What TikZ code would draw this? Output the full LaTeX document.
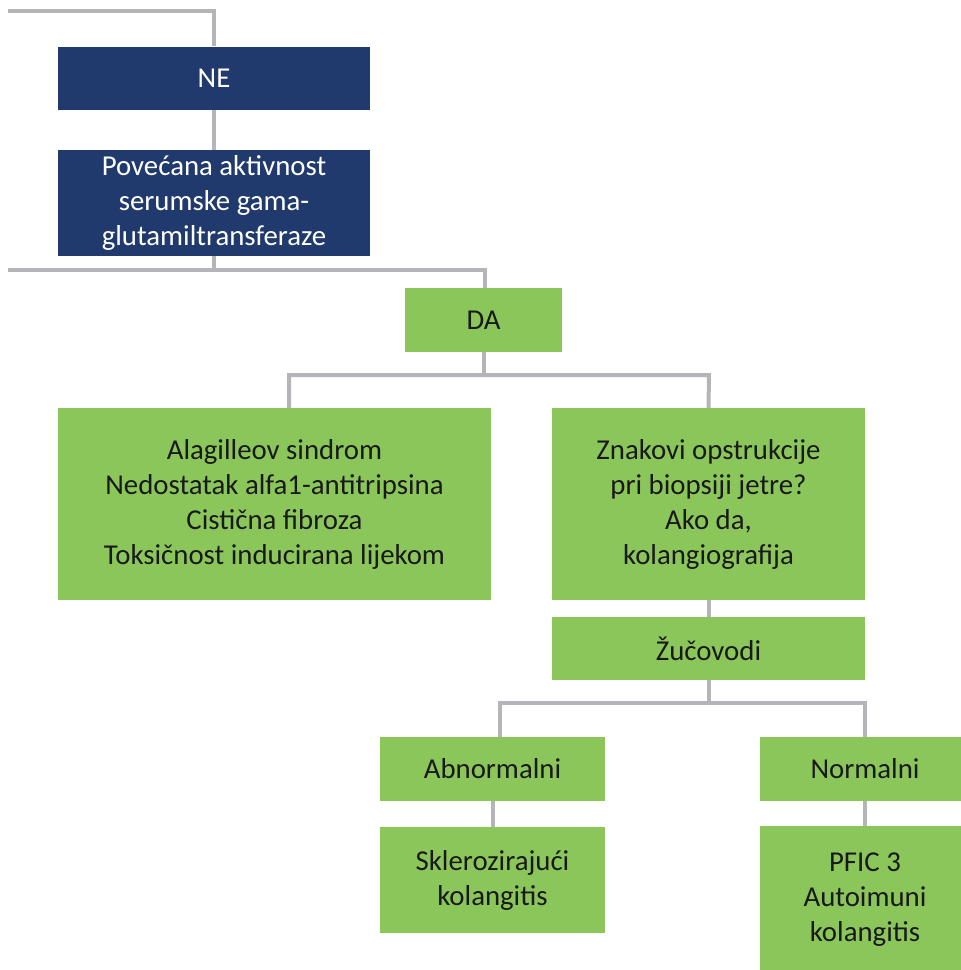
\documentclass[tikz,border=0pt]{standalone}
\usepackage{fontspec}
\setmainfont{Carlito}
\definecolor{navy}{HTML}{203A6D}
\definecolor{leaf}{HTML}{8BC65A}
\definecolor{wire}{HTML}{B4B4B9}
\begin{document}
\begin{tikzpicture}[x=1pt,y=-1pt,
  box/.style={rectangle,inner sep=0pt,align=center,font=\fontsize{28.8}{35}\selectfont},
  dark/.style={box,fill=navy,text=white},
  light/.style={box,fill=leaf,text=black!90},
  conn/.style={draw=wire,line width=4pt}]
\useasboundingbox (0,0) rectangle (961,970);
% nodes
\node[dark,minimum width=312pt,minimum height=63pt] (ne) at (214,78) {NE};
\node[dark,minimum width=312pt,minimum height=106pt] (pov) at (214,203) {Povećana aktivnost\\serumske gama-\\glutamiltransferaze};
\node[light,minimum width=157pt,minimum height=64pt] (da) at (483.5,320) {DA};
\node[light,minimum width=433pt,minimum height=192pt] (alag) at (274.5,504) {Alagilleov sindrom\\Nedostatak alfa1-antitripsina\\Cistična fibroza\\Toksičnost inducirana lijekom};
\node[light,minimum width=313pt,minimum height=192pt] (znak) at (708.5,504) {Znakovi opstrukcije\\pri biopsiji jetre?\\Ako da,\\kolangiografija};
\node[light,minimum width=313pt,minimum height=63pt] (zuc) at (708.5,648.5) {Žučovodi};
\node[light,minimum width=225pt,minimum height=64pt] (abn) at (492.5,769) {Abnormalni};
\node[light,minimum width=210pt,minimum height=64pt] (norm) at (865,769) {Normalni};
\node[light,minimum width=225pt,minimum height=106pt] (skl) at (492.5,880) {Sklerozirajući\\kolangitis};
\node[light,minimum width=210pt,minimum height=148pt] (pfic) at (865,900) {PFIC 3\\Autoimuni\\kolangitis};
% free ends and bends
\coordinate (t0) at (8,11);
\coordinate (t1) at (214,11);
\coordinate (m0) at (8,270);
\coordinate (m1) at (214,270);
\coordinate (m2) at (485,270);
\coordinate (d1) at (289,375);
\coordinate (d2) at (709,375);
\coordinate (z1) at (500,703);
\coordinate (z2) at (865,703);
% connectors
\draw[conn] (t0) -- (t1) -- (ne.north);
\draw[conn] (ne.south) -- (pov.north);
\draw[conn] (pov.south) -- (m1);
\draw[conn] (m0) -- (m2) -- (m2 |- da.north);
\draw[conn] (da.south) -- (da.south |- d1);
\draw[conn] (d1 |- alag.north) -- (d1) -- (d2) -- (znak.north);
\draw[conn] (znak.south) -- (zuc.north);
\draw[conn] (zuc.south) -- (zuc.south |- z1);
\draw[conn] (z1 |- abn.north) -- (z1) -- (z2) -- (norm.north);
\draw[conn] (abn.south) -- (skl.north);
\draw[conn] (norm.south) -- (norm.south |- pfic.north);
\end{tikzpicture}
\end{document}
